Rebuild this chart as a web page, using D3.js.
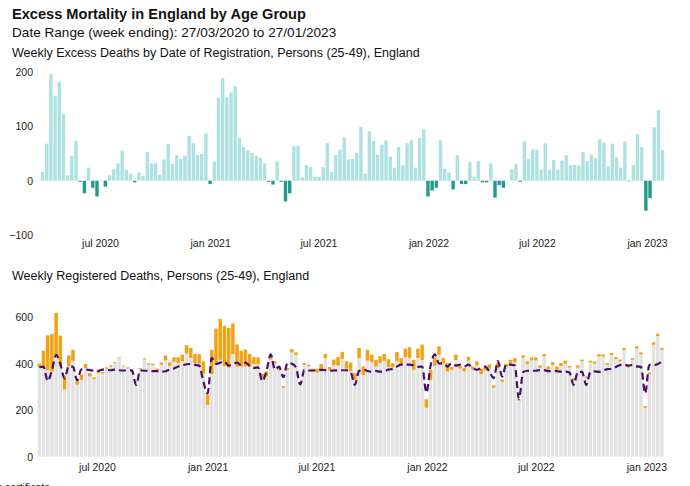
<!DOCTYPE html>
<html><head><meta charset="utf-8">
<script src="https://cdn.jsdelivr.net/npm/d3@7"></script>
<style>
body{margin:0;background:#fff}
svg{display:block;font-family:"Liberation Sans",Arial,Helvetica,sans-serif}
</style>
</head><body>
<svg id="chart" width="690" height="486"></svg>
<script>
// ---------- DATA ----------
const firstWeek = "2020-03-27";
const lastWeek = "2023-01-27";

// Weekly excess deaths, persons 25-49 (top panel)
const excessDeaths = [16,68,196,156,181,122,10,46,73,-2,
-23,24,-13,-29,1,-11,10,21,32,55,
20,13,-3,15,9,53,32,32,11,39,
67,31,47,40,46,82,69,47,49,87,
-6,35,152,188,153,162,174,78,62,56,
51,46,42,32,-2,-7,35,-2,-38,-23,
63,64,6,29,25,7,7,25,69,16,
47,57,79,39,40,51,99,13,91,73,
48,66,74,44,24,62,28,69,75,24,
78,94,-29,-18,-13,74,22,15,-16,47,
-6,-6,34,7,36,-3,-3,32,-31,-8,
-13,1,21,31,-2,72,40,57,57,20,
69,20,38,20,37,47,28,29,28,53,
36,48,42,76,70,26,68,43,24,72,
-1,29,86,62,-55,-32,98,130,57];

// Weekly registered deaths (bar total, bottom panel)
const registeredDeaths = [401,456,522,528,619,521,347,436,460,327,
353,399,360,341,370,364,384,393,407,427,
391,384,369,324,381,423,402,400,379,405,
435,406,427,428,439,480,468,442,441,410,
266,460,551,593,563,554,573,483,456,461,
442,428,427,357,367,433,410,386,304,381,
463,449,317,403,396,378,378,399,442,386,
418,429,451,411,405,360,468,388,460,439,
417,432,442,419,402,450,424,465,471,417,
465,482,247,374,427,475,424,403,386,439,
390,382,430,388,410,378,385,397,307,404,
332,400,417,424,247,436,410,427,427,393,
442,388,407,388,403,413,390,338,393,418,
345,413,409,441,440,403,446,429,418,468,
391,424,475,449,218,363,492,529,468];

// Deaths with COVID-19 on the death certificate (orange part)
const covidDeaths = [14,68,150,161,180,132,57,47,47,17,
22,17,14,7,10,6,5,5,4,3,
3,3,3,3,3,4,5,6,8,10,
20,15,18,25,28,36,43,39,40,52,
43,104,155,176,173,170,131,96,68,72,
54,29,29,17,22,14,8,14,7,7,
14,10,6,7,6,5,16,22,17,14,
24,36,30,32,36,29,43,36,47,32,
29,29,29,33,17,40,24,37,46,43,
40,65,36,43,36,36,23,36,12,22,
10,14,17,12,17,22,14,17,10,22,
10,12,14,17,6,9,12,12,12,10,
10,12,12,14,12,12,6,9,9,7,
6,7,8,9,8,7,9,8,7,8,
7,7,9,8,7,7,10,10,7];

// Expected deaths (dashed line)
const expectedDeaths = [385,388,326,372,438,399,337,390,387,329,
376,375,373,370,369,375,374,372,375,372,
371,371,372,309,372,370,370,368,368,366,
368,375,380,388,393,398,399,395,392,323,
272,425,399,405,410,392,399,405,394,405,
391,382,385,325,369,440,375,388,342,404,
400,385,311,374,371,371,371,374,373,370,
371,372,372,372,365,309,369,375,369,366,
369,366,368,375,378,388,396,396,396,393,
387,388,276,392,440,401,402,388,402,392,
396,388,396,381,374,381,388,365,338,412,
345,399,396,393,249,364,370,370,370,373,
373,368,369,368,366,366,362,309,365,365,
309,365,367,365,370,377,378,386,394,396,
392,395,389,387,273,395,394,399,411];

const excessTicks = [-100, 0, 100, 200];
const deathTicks = [0, 200, 400, 600];
const dateTicks = ["2020-07-01","2021-01-01","2021-07-01","2022-01-01","2022-07-01","2023-01-01"];

const titleText = "Excess Mortality in England by Age Group";
const subtitleText = "Date Range (week ending): 27/03/2020 to 27/01/2023";
const topTitle = "Weekly Excess Deaths by Date of Registration, Persons (25-49), England";
const bottomTitle = "Weekly Registered Deaths, Persons (25-49), England";
const footnote = "Deaths with COVID-19 on the death certificate";

// ---------- DRAW ----------
const parse = d3.utcParse("%Y-%m-%d");
const weeks = d3.utcFriday.range(parse(firstWeek), d3.utcDay.offset(parse(lastWeek), 1));
const fmt = d => d3.utcFormat("%b %Y")(d).toLowerCase();
const svg = d3.select("#chart");

svg.append("text").attr("x", 12).attr("y", 19).attr("font-size", 14.6).attr("font-weight", "bold").attr("fill", "#111").text(titleText);
svg.append("text").attr("x", 12).attr("y", 37).attr("font-size", 13.6).attr("fill", "#111").text(subtitleText);
svg.append("text").attr("x", 12).attr("y", 57).attr("font-size", 12.5).attr("fill", "#111").text(topTitle);
svg.append("text").attr("x", 12).attr("y", 280).attr("font-size", 12.5).attr("fill", "#111").text(bottomTitle);

// Top panel
const xTop = d3.scaleUtc().domain([parse(firstWeek), parse(lastWeek)]).range([42.5, 662.6]);
const yTop = d3.scaleLinear().domain([-100, 200]).range([235.2, 71.7]);
const bw = 3.4;

svg.append("g").selectAll("rect").data(excessDeaths).join("rect")
  .attr("x", (d, i) => xTop(weeks[i]) - bw / 2)
  .attr("width", bw)
  .attr("y", d => yTop(Math.max(0, d)))
  .attr("height", d => Math.abs(yTop(d) - yTop(0)))
  .attr("fill", d => d >= 0 ? "#aee2e1" : "#24998e");

const axisStyle = g => {
  g.select(".domain").remove();
  g.selectAll("text").attr("font-size", 10.5).attr("fill", "#222").attr("font-family", "Liberation Sans, Arial, sans-serif");
};

svg.append("g").attr("transform", "translate(36,0)")
  .call(d3.axisLeft(yTop).tickValues(excessTicks).tickSize(0).tickPadding(3).tickFormat(d3.format("d")))
  .call(axisStyle);
svg.append("g").attr("transform", "translate(0,238)")
  .call(d3.axisBottom(xTop).tickValues(dateTicks.map(parse)).tickSize(0).tickPadding(2).tickFormat(fmt))
  .call(axisStyle);

// Bottom panel
const xBot = d3.scaleUtc().domain([parse(firstWeek), parse(lastWeek)]).range([39.3, 662.0]);
const yBot = d3.scaleLinear().domain([0, 600]).range([456.7, 317.3]);

svg.append("g").selectAll("rect").data(registeredDeaths).join("rect")
  .attr("x", (d, i) => xBot(weeks[i]) - bw / 2)
  .attr("width", bw)
  .attr("y", d => yBot(d))
  .attr("height", d => yBot(0) - yBot(d))
  .attr("fill", "#e2e2e2");

svg.append("g").selectAll("rect").data(covidDeaths).join("rect")
  .attr("x", (d, i) => xBot(weeks[i]) - bw / 2)
  .attr("width", bw)
  .attr("y", (d, i) => yBot(registeredDeaths[i]))
  .attr("height", d => yBot(0) - yBot(d))
  .attr("fill", "#f2a30f");

const line = d3.line()
  .x((d, i) => xBot(weeks[i]))
  .y(d => yBot(d))
  .curve(d3.curveMonotoneX);
svg.append("path").datum(expectedDeaths)
  .attr("d", line)
  .attr("fill", "none")
  .attr("stroke", "#4b0f6b")
  .attr("stroke-width", 2.2)
  .attr("stroke-dasharray", "7,4");

svg.append("g").attr("transform", "translate(36,0)")
  .call(d3.axisLeft(yBot).tickValues(deathTicks).tickSize(0).tickPadding(3).tickFormat(d3.format("d")))
  .call(axisStyle);
svg.append("g").attr("transform", "translate(0,462)")
  .call(d3.axisBottom(xBot).tickValues(dateTicks.map(parse)).tickSize(0).tickPadding(2).tickFormat(fmt))
  .call(axisStyle);

svg.append("text").attr("x", 50).attr("y", 491).attr("text-anchor", "end").attr("font-size", 10.5).attr("fill", "#222").text(footnote);
</script>
</body></html>
